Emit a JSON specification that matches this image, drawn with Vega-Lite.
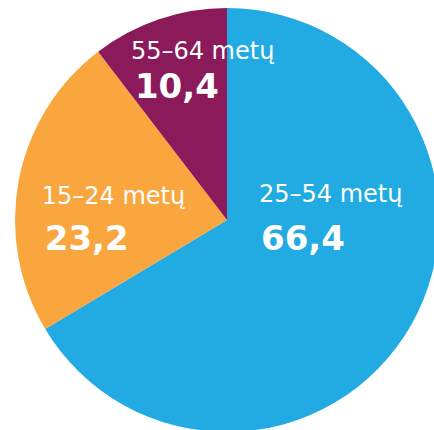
{
  "$schema": "https://vega.github.io/schema/vega-lite/v6.json",
  "width": 414,
  "height": 424,
  "padding": {"left": 20, "top": 8, "right": 0, "bottom": 0},
  "autosize": {"type": "none"},
  "background": "white",
  "view": {"stroke": null},
  "data": {
    "values": [
      {"age": "25–54 metų", "share": 66.4, "label": "66,4", "order": 1},
      {"age": "15–24 metų", "share": 23.2, "label": "23,2", "order": 2},
      {"age": "55–64 metų", "share": 10.4, "label": "10,4", "order": 3}
    ]
  },
  "encoding": {
    "theta": {"field": "share", "type": "quantitative", "stack": true},
    "order": {"field": "order", "type": "quantitative"}
  },
  "layer": [
    {
      "mark": {"type": "arc", "outerRadius": 212},
      "encoding": {
        "color": {
          "field": "age",
          "type": "nominal",
          "scale": {
            "domain": ["25–54 metų", "15–24 metų", "55–64 metų"],
            "range": ["#21ABE2", "#F9A63F", "#8B1A5B"]
          },
          "legend": null
        }
      }
    },
    {
      "mark": {"type": "text", "radius": 100, "dx": -55, "dy": -67, "align": "left", "baseline": "alphabetic", "font": "DejaVu Sans", "fontSize": 24, "color": "white"},
      "encoding": {"text": {"condition": {"test": "datum.order === 1", "field": "age"}, "value": ""}}
    },
    {
      "mark": {"type": "text", "radius": 100, "dx": -53, "dy": -19, "align": "left", "baseline": "alphabetic", "font": "DejaVu Sans", "fontWeight": "bold", "fontSize": 34, "color": "white"},
      "encoding": {"text": {"condition": {"test": "datum.order === 1", "field": "label"}, "value": ""}}
    },
    {
      "mark": {"type": "text", "radius": 100, "dx": -87, "dy": 3, "align": "left", "baseline": "alphabetic", "font": "DejaVu Sans", "fontSize": 24, "color": "white"},
      "encoding": {"text": {"condition": {"test": "datum.order === 2", "field": "age"}, "value": ""}}
    },
    {
      "mark": {"type": "text", "radius": 100, "dx": -84, "dy": 49, "align": "left", "baseline": "alphabetic", "font": "DejaVu Sans", "fontWeight": "bold", "fontSize": 34, "color": "white"},
      "encoding": {"text": {"condition": {"test": "datum.order === 2", "field": "label"}, "value": ""}}
    },
    {
      "mark": {"type": "text", "radius": 100, "dx": -64, "dy": -66, "align": "left", "baseline": "alphabetic", "font": "DejaVu Sans", "fontSize": 24, "color": "white"},
      "encoding": {"text": {"condition": {"test": "datum.order === 3", "field": "age"}, "value": ""}}
    },
    {
      "mark": {"type": "text", "radius": 100, "dx": -60, "dy": -27, "align": "left", "baseline": "alphabetic", "font": "DejaVu Sans", "fontWeight": "bold", "fontSize": 34, "color": "white"},
      "encoding": {"text": {"condition": {"test": "datum.order === 3", "field": "label"}, "value": ""}}
    }
  ]
}
